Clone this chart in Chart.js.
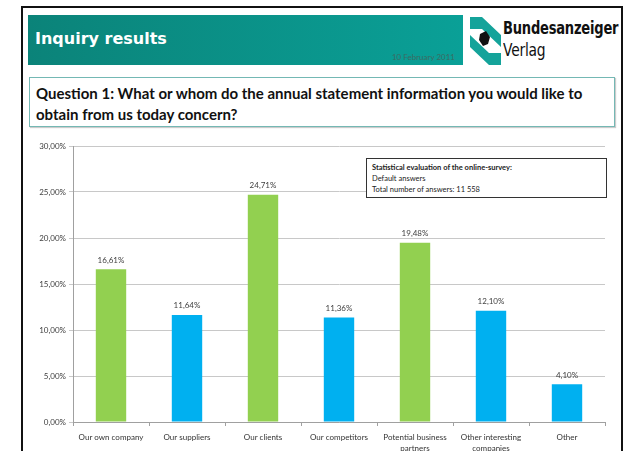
<!DOCTYPE html>
<html>
<head>
<meta charset="utf-8">
<script src="https://cdn.jsdelivr.net/npm/chart.js"></script>
<style>
  body { margin: 0; background: #fff; width: 625px; height: 451px; overflow: hidden; position: relative; font-family: Lato, "Open Sans", sans-serif; }
  #frame { position: absolute; left: 21px; top: 6px; width: 598px; height: 460px; border: 2px solid #111; border-bottom: none; }
  #banner { position: absolute; left: 28px; top: 15px; width: 435px; height: 50px; background: linear-gradient(to right, #0b8379, #0aa097); }
  #banner h1 { margin: 0; position: absolute; left: 7px; top: 14px; color: #fff; font: bold 16px "DejaVu Sans", sans-serif; }
  #banner .date { position: absolute; right: 8px; bottom: 3px; color: #3d6b63; font-size: 8px; }
  #logo { position: absolute; left: 470px; top: 17px; }
  #brand { position: absolute; left: 503px; top: 17px; font-family: "DejaVu Sans", sans-serif; color: #111; line-height: 22px; transform: scaleX(0.77); transform-origin: 0 0; white-space: nowrap; }
  #brand .b1 { font-weight: bold; font-size: 17px; letter-spacing: -0.3px; display: block; }
  #brand .b2 { font-size: 18px; letter-spacing: -0.3px; display: block; }
  #question { position: absolute; left: 29px; top: 77px; width: 586px; height: 50px; border: 1px solid #74b8b4; box-shadow: 1px 1px 1px #ccc; box-sizing: border-box; }
  #question p { margin: 0; position: absolute; left: 6px; top: 5px; font: bold 15px Lato, sans-serif; line-height: 21px; color: #111; white-space: nowrap; }
  #wrapper { position: absolute; left: 0; top: 130px; width: 625px; height: 321px; }
  #note { position: absolute; left: 366px; top: 158px; width: 241px; height: 40px; box-sizing: border-box; border: 1px solid #333; background: #fff; font-size: 7.5px; color: #222; padding: 3px 5px; line-height: 11px; }
  #note b { font-weight: bold; }
</style>
</head>
<body>
<div id="frame"></div>
<div id="banner">
  <h1>Inquiry results</h1>
  <span class="date">10 February 2011</span>
</div>
<svg id="logo" width="31" height="48" viewBox="0 0 31 48">
  <rect x="0" y="0" width="31" height="48" fill="#fff"/>
  <path d="M0 0 H12 L31 18 V30 L12 12 H0 Z" fill="#14a39a"/>
  <path d="M31 48 H19 L0 30 V18 L19 36 H31 Z" fill="#14a39a"/>
  <path d="M10 17 L16 14 L20 20 L18 27 L13 29 L9 23 Z" fill="#111"/>
</svg>
<div id="brand"><span class="b1">Bundesanzeiger</span><span class="b2">Verlag</span></div>
<div id="question"><p>Question 1: What or whom do the annual statement information you would like to<br>obtain from us today concern?</p></div>
<div id="wrapper"><canvas id="answers"></canvas></div>
<div id="note"><b>Statistical evaluation of the online-survey:</b><br>Default answers<br>Total number of answers: 11 558</div>

<script>
  var categories = [
    'Our own company',
    'Our suppliers',
    'Our clients',
    'Our competitors',
    ['Potential business', 'partners'],
    ['Other interesting', 'companies'],
    'Other'
  ];
  var shares = [16.61, 11.64, 24.71, 11.36, 19.48, 12.10, 4.10];
  var barColors = ['#92d050', '#00b0f0', '#92d050', '#00b0f0', '#92d050', '#00b0f0', '#00b0f0'];

  function pct(v) {
    return v.toFixed(2).replace('.', ',') + '%';
  }

  // draws the value over each bar
  var valueLabels = {
    id: 'valueLabels',
    afterDatasetsDraw: function (chart) {
      var ctx = chart.ctx;
      var meta = chart.getDatasetMeta(0);
      ctx.save();
      ctx.font = '8px Lato, sans-serif';
      ctx.fillStyle = '#404040';
      ctx.textAlign = 'center';
      ctx.textBaseline = 'middle';
      meta.data.forEach(function (bar, i) {
        ctx.fillText(pct(shares[i]), bar.x, bar.y - 9);
      });
      ctx.restore();
    }
  };

  Chart.defaults.font.family = 'Lato, sans-serif';
  Chart.defaults.font.size = 8;
  Chart.defaults.color = '#404040';

  new Chart('answers', {
    type: 'bar',
    data: {
      labels: categories,
      datasets: [{
        data: shares,
        backgroundColor: barColors,
        borderWidth: 0,
        barPercentage: 0.4,
        categoryPercentage: 1.0
      }]
    },
    options: {
      responsive: true,
      maintainAspectRatio: false,
      animation: false,
      layout: { padding: { top: 16, right: 20, left: 0, bottom: 0 } },
      plugins: {
        legend: { display: false },
        tooltip: { enabled: false }
      },
      scales: {
        x: {
          grid: { display: true, drawOnChartArea: false, drawTicks: true, tickLength: 4, color: '#a0a0a0' },
          border: { color: '#a0a0a0' },
          ticks: { padding: 6, maxRotation: 0, font: { size: 8, lineHeight: 1.4 }, color: '#333' },
          afterFit: function (scale) { scale.height = 29; }
        },
        y: {
          min: 0,
          max: 30,
          grid: { color: '#c8c8c8', tickLength: 4 },
          border: { color: '#a0a0a0' },
          ticks: {
            stepSize: 5,
            padding: 3,
            color: '#404040',
            callback: function (v) { return pct(v); }
          },
          afterFit: function (scale) { scale.width = 73; }
        }
      }
    },
    plugins: [valueLabels]
  });
</script>
</body>
</html>
